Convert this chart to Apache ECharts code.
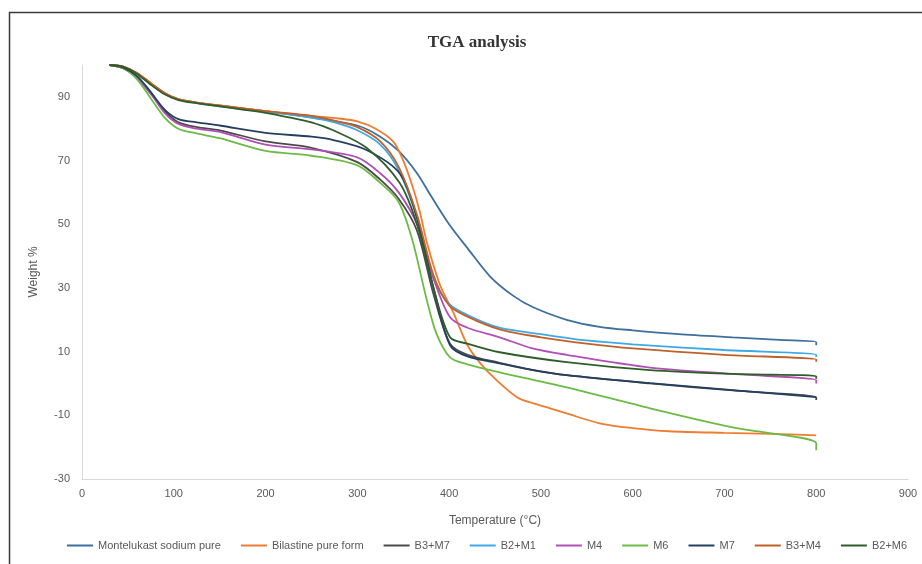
<!DOCTYPE html>
<html>
<head>
<meta charset="utf-8">
<script src="https://cdn.jsdelivr.net/npm/echarts@6/dist/echarts.min.js"></script>
<style>
html,body{margin:0;padding:0;background:#fff;}
#tga{width:922px;height:564px;}
</style>
</head>
<body>
<div id="tga"></div>
<script>
// [temperature °C, weight %]
var montelukast = [[30,100],[45,99.4],[60,97.3],[75,94],[90,91],[105,89.2],[125,88.2],[150,87.2],[200,85.5],[250,83.5],[300,81],[325,77.5],[345,73],[365,66],[380,59],[400,50],[420,42.5],[445,33.5],[470,27.5],[491,24],[528,20],[564,17.8],[600,16.7],[650,15.5],[709,14.5],[760,13.7],[800,13],[800,12]];
var bilastine = [[30,100],[45,99.5],[60,97.5],[75,94.3],[90,91.2],[105,89.3],[125,88.2],[150,87.3],[200,85.5],[250,84],[280,83.2],[300,82.3],[320,80],[339,76],[350,70],[360,62],[368,54],[376,44],[390,31],[405,22],[420,12],[435,6],[450,1.5],[474,-4.3],[491,-6.2],[510,-7.8],[528,-9.4],[564,-12.5],[600,-14],[640,-15],[700,-15.5],[750,-15.8],[800,-16.3]];
var b3m7 = [[30,100],[45,99],[60,96],[75,91],[90,85.5],[105,82],[125,80.5],[150,79.5],[200,76],[250,74],[300,69.5],[325,64],[345,58],[365,48],[383,28],[401,12.5],[420,9],[455,6.5],[491,4.3],[528,2.6],[619,0],[709,-2.2],[800,-4.4],[800,-5.2]];
var b2m1 = [[30,100],[45,99.4],[60,97.3],[75,94],[90,91],[105,89.2],[125,88],[150,87],[200,85.3],[250,83.5],[275,82],[300,79.5],[325,75],[345,67],[365,52],[383,33],[400,25],[420,21.5],[455,17.5],[500,15.5],[550,13.5],[600,12.3],[700,10.5],[800,9],[800,8.3]];
var m4 = [[30,100],[45,99],[60,96],[75,91],[90,85],[105,81.5],[125,80],[150,79],[200,75],[250,73.5],[300,71],[325,66],[345,60],[365,50],[383,33],[401,20.8],[420,17.5],[455,14.5],[491,11],[528,9],[619,5],[709,3],[800,1],[800,0]];
var m6 = [[30,100],[45,99],[60,95.5],[75,89.5],[90,83.5],[105,80],[125,78.5],[150,77],[200,73],[250,71.5],[300,68.5],[325,63],[345,57],[360,45],[375,27],[386,15.8],[401,8.2],[420,6],[455,3.5],[528,-1.2],[619,-7.8],[709,-13.8],[800,-18.8],[800,-21]];
var m7 = [[30,100],[45,99.2],[60,96.5],[75,91.5],[90,86],[105,83],[125,82],[150,81],[200,78.7],[250,77.5],[273,76.5],[310,73.3],[346,66],[365,52],[383,30],[401,12],[420,8.5],[455,6.3],[491,4.2],[528,2.6],[619,0.1],[709,-2.1],[800,-4.3]];
var b3m4 = [[30,100],[45,99.5],[60,97.5],[75,94.3],[90,91.2],[105,89.3],[125,88.2],[150,87.3],[200,85.5],[250,84],[275,82.5],[300,80.5],[325,76],[345,68],[365,53],[383,34],[400,24.5],[420,21],[455,17],[500,14.5],[550,12.5],[600,11],[700,9],[800,7.5],[800,6.8]];
var b2m6 = [[30,100],[45,99.4],[60,97.2],[75,93.8],[90,90.8],[105,89],[125,88],[150,87],[200,85],[227,83.5],[250,82],[273,79.6],[310,74],[346,63],[365,50],[383,30],[401,14.5],[420,12.5],[455,9.8],[528,6.7],[619,4.2],[709,3],[800,2.3],[800,1.5]];

var names = ['Montelukast sodium pure','Bilastine pure form','B3+M7','B2+M1','M4','M6','M7','B3+M4','B2+M6'];
var sets = [montelukast, bilastine, b3m7, b2m1, m4, m6, m7, b3m4, b2m6];
var colors = ['#3f6f9c','#ed7d31','#4a4a4a','#3fa9e6','#b050b5','#6dbb45','#243f60','#c0602a','#2f5e2a'];

var series = [];
for (var i = 0; i < names.length; i++) {
    series.push({
        name: names[i],
        type: 'line',
        data: sets[i],
        smooth: 0.3,
        showSymbol: false,
        lineStyle: {width: 1.8, color: colors[i]},
        itemStyle: {color: colors[i]}
    });
}

var dom = document.getElementById('tga');
var myChart = echarts.init(dom);
var option = {
    backgroundColor: '#fff',
    animation: false,
    graphic: [{
        type: 'rect',
        shape: {x: 9.5, y: 12.5, width: 1000, height: 1000},
        style: {fill: 'none', stroke: '#3a3a3a', lineWidth: 1.5},
        silent: true
    }],
    title: {
        text: 'TGA analysis',
        left: 472,
        top: 29,
        textAlign: 'center',
        textStyle: {fontFamily: 'Liberation Serif', fontWeight: 'bold', fontSize: 17, color: '#333'}
    },
    legend: {
        data: names,
        bottom: 8,
        left: 62,
        icon: 'rect',
        itemWidth: 26,
        itemHeight: 2,
        itemGap: 20,
        textStyle: {fontFamily: 'Liberation Sans', fontSize: 11, color: '#595959'}
    },
    grid: {left: 82, right: 14, top: 65, bottom: 85},
    xAxis: {
        type: 'value',
        min: 0,
        max: 900,
        interval: 100,
        name: 'Temperature (°C)',
        nameLocation: 'middle',
        nameGap: 36,
        nameTextStyle: {fontFamily: 'Liberation Sans', fontSize: 12, color: '#595959'},
        axisLine: {show: true, onZero: false, lineStyle: {color: '#d9d9d9'}},
        axisTick: {show: false},
        splitLine: {show: false},
        axisLabel: {fontFamily: 'Liberation Sans', fontSize: 11, color: '#595959', margin: 9}
    },
    yAxis: {
        type: 'value',
        min: -30,
        max: 100,
        interval: 20,
        name: 'Weight %',
        nameLocation: 'middle',
        nameGap: 42,
        nameTextStyle: {fontFamily: 'Liberation Sans', fontSize: 12, color: '#595959'},
        axisLine: {show: true, onZero: false, lineStyle: {color: '#d9d9d9'}},
        axisTick: {show: false},
        splitLine: {show: false},
        axisLabel: {fontFamily: 'Liberation Sans', fontSize: 11, color: '#595959', margin: 12, showMaxLabel: false}
    },
    series: series
};
myChart.setOption(option, true);
</script>
</body>
</html>
